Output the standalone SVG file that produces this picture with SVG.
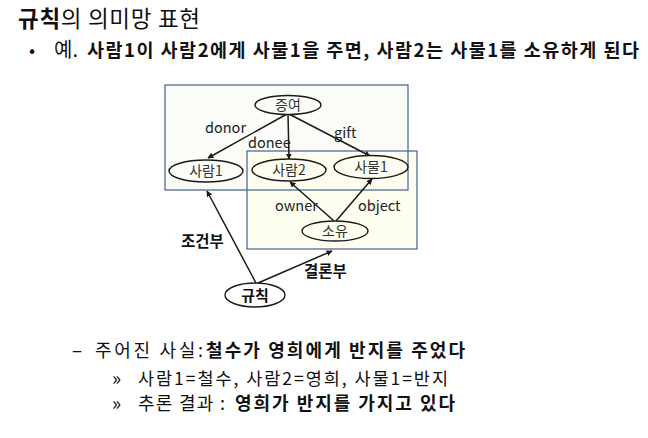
<svg xmlns="http://www.w3.org/2000/svg" width="648" height="438" viewBox="0 0 648 438">
<defs>
<style>
text{font-family:"Malgun Gothic","Noto Sans CJK KR","Noto Sans",sans-serif;fill:#111}
.b{font-weight:bold}
.n{font-size:14px;text-anchor:middle;fill:#333}
.l{font-size:14.5px;fill:#222}
.lb{font-size:15.5px;font-weight:bold;fill:#111}
.e{stroke:#1a1a1a;stroke-width:1.4}
.c{stroke:#1a1a1a;stroke-width:1.5;fill:none;marker-end:url(#ah)}
.box{stroke:#41618f;stroke-width:1.2}
</style>
<marker id="ah" viewBox="0 0 10 10" refX="9" refY="5" markerWidth="6" markerHeight="6" orient="auto" markerUnits="userSpaceOnUse">
<path d="M0,0 L10,5 L0,10 z" fill="#1a1a1a"/>
</marker>
</defs>
<rect width="648" height="438" fill="#ffffff"/>

<text x="18" y="27" font-size="22.5" textLength="182" lengthAdjust="spacing"><tspan class="b">규칙</tspan>의 의미망 표현</text>
<text x="29" y="57" font-size="18">•</text>
<text x="54" y="57" font-size="20">예.</text>
<text x="87" y="57" font-size="18.5" class="b" textLength="552" lengthAdjust="spacing">사람1이 사람2에게 사물1을 주면, 사람2는 사물1를 소유하게 된다</text>

<g id="boxes">
<rect x="165" y="85" width="243" height="105" fill="#fbfbf8"/>
<rect id="box2" class="box" x="247" y="151" width="170" height="98" fill="#fdfdf0"/>
<rect id="box1" class="box" x="165" y="85" width="243" height="105" fill="none"/>
</g>

<g id="connectors">
<line class="c" x1="287" y1="114" x2="208" y2="158"/>
<line class="c" x1="288" y1="114" x2="289" y2="159"/>
<line class="c" x1="289" y1="114" x2="370" y2="156"/>
<line class="c" x1="334" y1="221" x2="290" y2="182"/>
<line class="c" x1="336" y1="221" x2="372" y2="179"/>
<line class="c" x1="256" y1="283" x2="207" y2="191"/>
<line class="c" x1="258" y1="283" x2="332" y2="251"/>
</g>

<g id="n-jeungyeo"><ellipse class="e" cx="288" cy="105" rx="33" ry="9.5" fill="#fbfbf8"/><text class="n" x="288" y="110">증여</text></g>
<g id="n-saram1"><ellipse class="e" cx="206" cy="171" rx="37" ry="11" fill="#fbfbf8"/><text class="n" x="206" y="176">사람1</text></g>
<g id="n-saram2"><ellipse class="e" cx="289" cy="170" rx="37" ry="11" fill="#fdfdf0"/><text class="n" x="289" y="175">사람2</text></g>
<g id="n-samul1"><ellipse class="e" cx="371" cy="167" rx="37" ry="11.5" fill="#fdfdf0"/><text class="n" x="371" y="172">사물1</text></g>
<g id="n-soyu"><ellipse class="e" cx="335" cy="231" rx="33" ry="10" fill="#fdfdf0"/><text class="n" x="335" y="236">소유</text></g>
<g id="n-gyuchik"><ellipse class="e" cx="255" cy="295" rx="30" ry="12" fill="#ffffff"/><text class="n b" x="255" y="300.5" style="fill:#111;font-size:15px">규칙</text></g>

<g id="labels">
<text class="l" x="205" y="133">donor</text>
<text class="l" x="248" y="148">donee</text>
<text class="l" x="334" y="138">gift</text>
<text class="l" x="275" y="211">owner</text>
<text class="l" x="358" y="211">object</text>
<text class="lb" x="181" y="247">조건부</text>
<text class="lb" x="304" y="277">결론부</text>
</g>

<text x="72" y="357" font-size="19">–</text>
<text x="95" y="357" font-size="18"><tspan textLength="108" lengthAdjust="spacing">주어진 사실:</tspan><tspan x="206" class="b" textLength="259" lengthAdjust="spacing">철수가 영희에게 반지를 주었다</tspan></text>
<text x="112" y="385" font-size="19">»</text>
<text x="138" y="385" font-size="17.5" textLength="310" lengthAdjust="spacing">사람1=철수, 사람2=영희, 사물1=반지</text>
<text x="112" y="410" font-size="19">»</text>
<text x="138" y="410" font-size="18"><tspan textLength="87" lengthAdjust="spacing">추론 결과 :</tspan><tspan x="235" class="b" textLength="220" lengthAdjust="spacing">영희가 반지를 가지고 있다</tspan></text>
</svg>
